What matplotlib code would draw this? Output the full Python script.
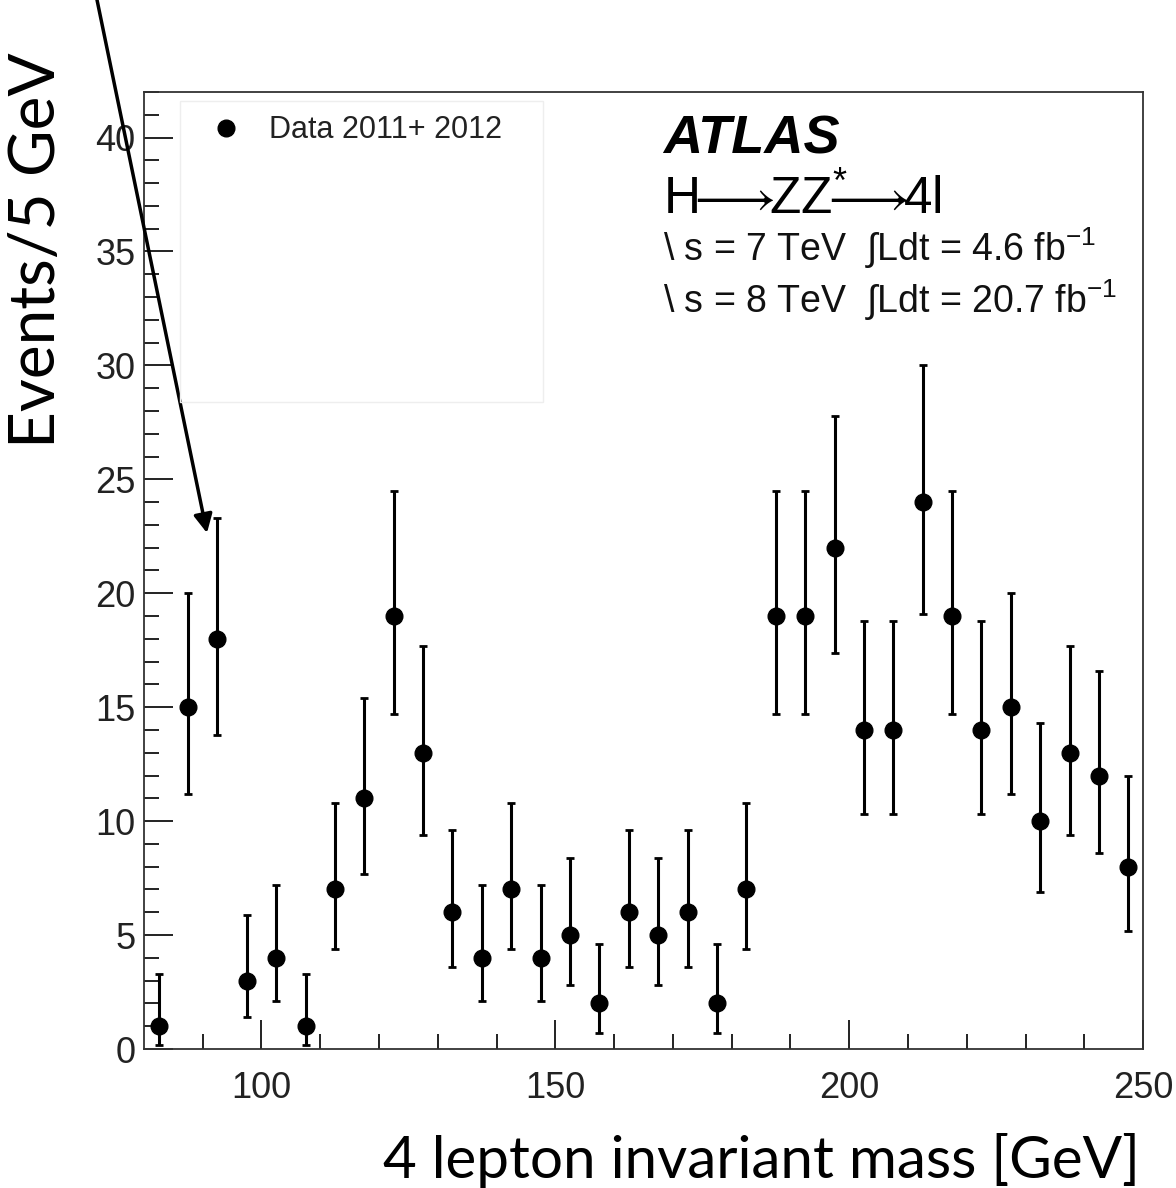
import matplotlib
matplotlib.use("Agg")
import matplotlib.pyplot as plt
from matplotlib.patches import Rectangle
from matplotlib.lines import Line2D

plt.rcParams['mathtext.fontset'] = 'custom'
plt.rcParams['mathtext.rm'] = 'Liberation Sans'
plt.rcParams['mathtext.it'] = 'Liberation Sans:italic'
plt.rcParams['mathtext.bf'] = 'Liberation Sans:bold'

# 4-lepton mass bins (centres, GeV) and event counts
mass = [82.5, 87.5, 92.5, 97.5, 102.5, 107.5, 112.5, 117.5, 122.5, 127.5,
        132.5, 137.5, 142.5, 147.5, 152.5, 157.5, 162.5, 167.5, 172.5, 177.5,
        182.5, 187.5, 192.5, 197.5, 202.5, 207.5, 212.5, 217.5, 222.5, 227.5,
        232.5, 237.5, 242.5, 247.5]
events = [1, 15, 18, 3, 4, 1, 7, 11, 19, 13,
          6, 4, 7, 4, 5, 2, 6, 5, 6, 2,
          7, 19, 19, 22, 14, 14, 24, 19, 14, 15,
          10, 13, 12, 8]
# error bar ends
err_low = [0.17, 11.2, 13.8, 1.4, 2.1, 0.17, 4.4, 7.7, 14.7, 9.4,
           3.6, 2.1, 4.4, 2.1, 2.8, 0.7, 3.6, 2.8, 3.6, 0.7,
           4.4, 14.7, 14.7, 17.4, 10.3, 10.3, 19.1, 14.7, 10.3, 11.2,
           6.9, 9.4, 8.6, 5.2]
err_high = [3.3, 20.0, 23.3, 5.9, 7.2, 3.3, 10.8, 15.4, 24.5, 17.7,
            9.6, 7.2, 10.8, 7.2, 8.4, 4.6, 9.6, 8.4, 9.6, 4.6,
            10.8, 24.5, 24.5, 27.8, 18.8, 18.8, 30.0, 24.5, 18.8, 20.0,
            14.3, 17.7, 16.6, 12.0]

yerr = [[e - lo for e, lo in zip(events, err_low)],
        [hi - e for e, hi in zip(events, err_high)]]

fig = plt.figure(figsize=(11.76, 11.88), dpi=100)
ax = fig.add_axes([0.1224, 0.117, 0.8496, 0.8056])

ax.errorbar(mass, events, yerr=yerr, fmt='o', color='black', markersize=12,
            elinewidth=2.2, capsize=3, capthick=2)

ax.set_xlim(80, 250)
ax.set_ylim(0, 42)
ax.set_xticks([100, 150, 200, 250])
ax.set_xticks(range(90, 250, 10), minor=True)
ax.set_yticks(range(0, 45, 5))
ax.set_yticks(range(0, 43, 1), minor=True)
ax.tick_params(which='both', direction='in', width=1.4, color='#222222',
               labelsize=26, labelcolor='#222222')
ax.tick_params(which='major', length=21)
ax.tick_params(which='minor', length=10.5)
ax.tick_params(axis='x', pad=16)
ax.tick_params(axis='y', pad=6)
for lab in ax.get_xticklabels() + ax.get_yticklabels():
    lab.set_family('Liberation Sans')
for s in ax.spines.values():
    s.set_color('#333333')
    s.set_linewidth(1.3)

# faint legend frame and entry
fig.patches.append(Rectangle((180 / 1176, 1 - 402 / 1188), 363 / 1176, 301 / 1188,
                             transform=fig.transFigure, fill=False,
                             edgecolor='#eeeeee', lw=1))
handle = Line2D([], [], marker='o', color='black', linestyle='none', markersize=12)
ax.legend([handle], ['Data 2011+ 2012'], loc='upper left',
          bbox_to_anchor=(0.061, 0.982), frameon=False, handlelength=1.0,
          handletextpad=0.9, borderpad=0.2, borderaxespad=0,
          prop={'family': 'Liberation Sans', 'size': 22}, labelcolor='#222222')

# ATLAS labels
fig.text(663 / 1176, 1 - 140 / 1188, 'ATLAS', fontsize=39, fontweight='bold',
         fontstyle='italic', family='Liberation Sans', va='center', ha='left')
fig.text(663 / 1176, 1 - 200 / 1188,
         r'H$\!\!\longrightarrow\!\!$ZZ$^{*}\!\!\!\!\longrightarrow\!\!$4l',
         fontsize=37, family='Liberation Sans', va='center', ha='left')
fig.text(663 / 1176, 1 - 248 / 1188, r'\ s = 7 TeV  $\int$Ldt = 4.6 fb$^{-1}$',
         fontsize=27, family='Liberation Sans', va='center', ha='left',
         color='#111111')
fig.text(663 / 1176, 1 - 300 / 1188, r'\ s = 8 TeV  $\int$Ldt = 20.7 fb$^{-1}$',
         fontsize=27, family='Liberation Sans', va='center', ha='left',
         color='#111111')

# axis titles
fig.text(37 / 1176, 1 - 250 / 1188, 'Events/5 GeV', rotation=90, fontsize=46,
         family='Lato', va='center', ha='center')
fig.text(1140 / 1176, 1 - 1160 / 1188, '4 lepton invariant mass [GeV]',
         fontsize=42, family='Lato', va='center', ha='right')

# pointer arrow
ax.annotate('', xy=(207, 1188 - 533), xycoords='figure pixels',
            xytext=(96, 1188 + 5), textcoords='figure pixels',
            arrowprops=dict(arrowstyle='-|>', color='black', lw=2.5,
                            mutation_scale=28, shrinkA=0, shrinkB=0),
            annotation_clip=False)

fig.savefig('out.png', dpi=100)
